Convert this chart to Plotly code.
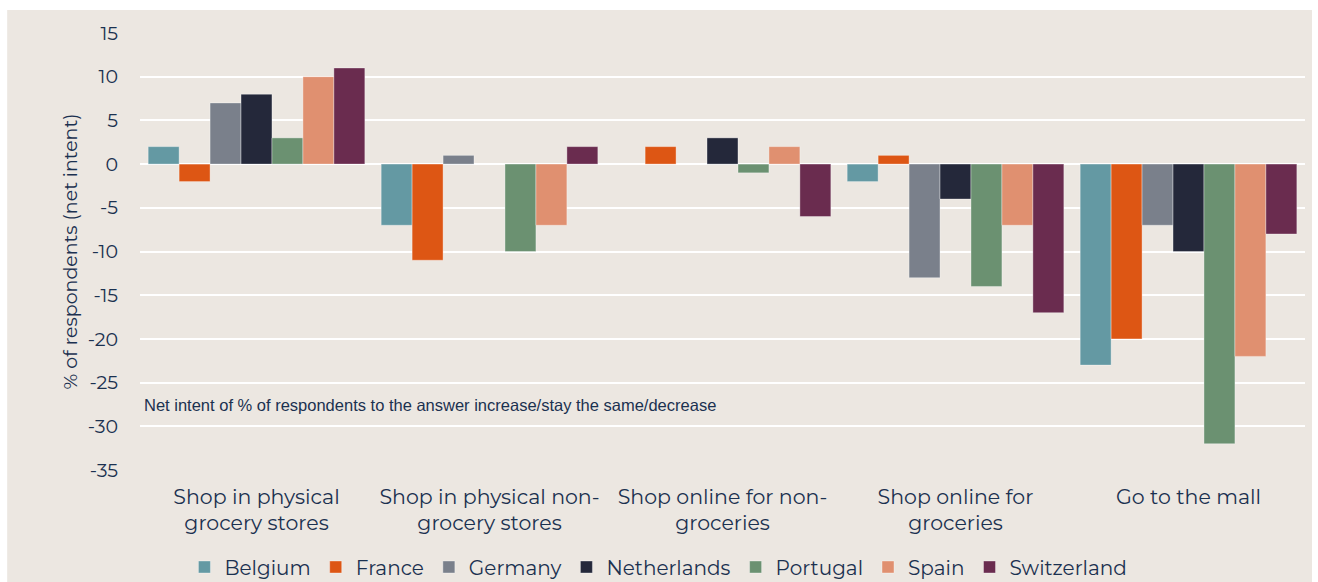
import plotly.graph_objects as go

categories = ["Shop in physical<br>grocery stores", "Shop in physical non-<br>grocery stores",
              "Shop online for non-<br>groceries", "Shop online for<br>groceries", "Go to the mall"]
countries = ["Belgium", "France", "Germany", "Netherlands", "Portugal", "Spain", "Switzerland"]
belgium = [2, -7, 0, -2, -23]
france = [-2, -11, 2, 1, -20]
germany = [7, 1, 0, -13, -7]
netherlands = [8, 0, 3, -4, -10]
portugal = [3, -10, -1, -14, -32]
spain = [10, -7, 2, -7, -22]
switzerland = [11, 2, -6, -17, -8]
series = [belgium, france, germany, netherlands, portugal, spain, switzerland]
colors = ["#6499A3", "#DD5614", "#7A808B", "#24283A", "#6B9171", "#E09070", "#6A2C4F"]
y_ticks = [15, 10, 5, 0, -5, -10, -15, -20, -25, -30, -35]
y_ticktext = ["15", "10", "5", "0", "-5", "-10", "-15", "-20", "-25", "-30", "-35"]

BG = "#ECE7E1"
TXT = "#1B3150"
FONT = "Montserrat, DejaVu Sans, sans-serif"

fig = go.Figure()
for name, vals, col in zip(countries, series, colors):
    fig.add_trace(go.Bar(x=categories, y=vals, name=name,
                         marker=dict(color=col, line=dict(color="rgba(255,255,255,0.35)", width=1))))

fig.update_layout(
    width=1318, height=582,
    barmode="group", bargap=0.07, bargroupgap=0,
    paper_bgcolor="white", plot_bgcolor=BG,
    margin=dict(l=140, r=13, t=33, b=112, autoexpand=False),
    font=dict(family=FONT, color=TXT),
    legend=dict(orientation="h", x=0.445, xanchor="center", y=(470 - 567) / 437, yanchor="middle",
                font=dict(size=20, color=TXT), bgcolor="rgba(0,0,0,0)",
                traceorder="normal", itemwidth=30),
    shapes=[dict(type="rect", xref="paper", yref="paper", x0=-0.114, x1=1.006,
                 y0=-0.26, y1=1.0526, fillcolor=BG, line=dict(width=0), layer="below")],
    annotations=[dict(text="Net intent of % of respondents to the answer increase/stay the same/decrease",
                      xref="paper", yref="paper", x=0.002, y=(470 - 405) / 437, xanchor="left",
                      yanchor="middle", showarrow=False,
                      font=dict(family="Liberation Sans, Arial, sans-serif", size=16.5, color=TXT))],
)
fig.update_xaxes(showgrid=False, showline=False, ticks="", tickfont=dict(size=20.5, color=TXT),
                 ticklabelstandoff=12, automargin=False)
fig.update_yaxes(range=[-35, 15], tickvals=y_ticks, ticktext=y_ticktext, showgrid=True,
                 gridcolor="white", gridwidth=1.5,
                 zeroline=True, zerolinecolor="white", zerolinewidth=1.5, showline=False,
                 tickfont=dict(size=19, color=TXT), ticks="", ticklabelstandoff=21, automargin=False,
                 title=dict(text="% of respondents (net intent)", font=dict(size=19, color=TXT), standoff=4))

fig.write_html("out.html")
